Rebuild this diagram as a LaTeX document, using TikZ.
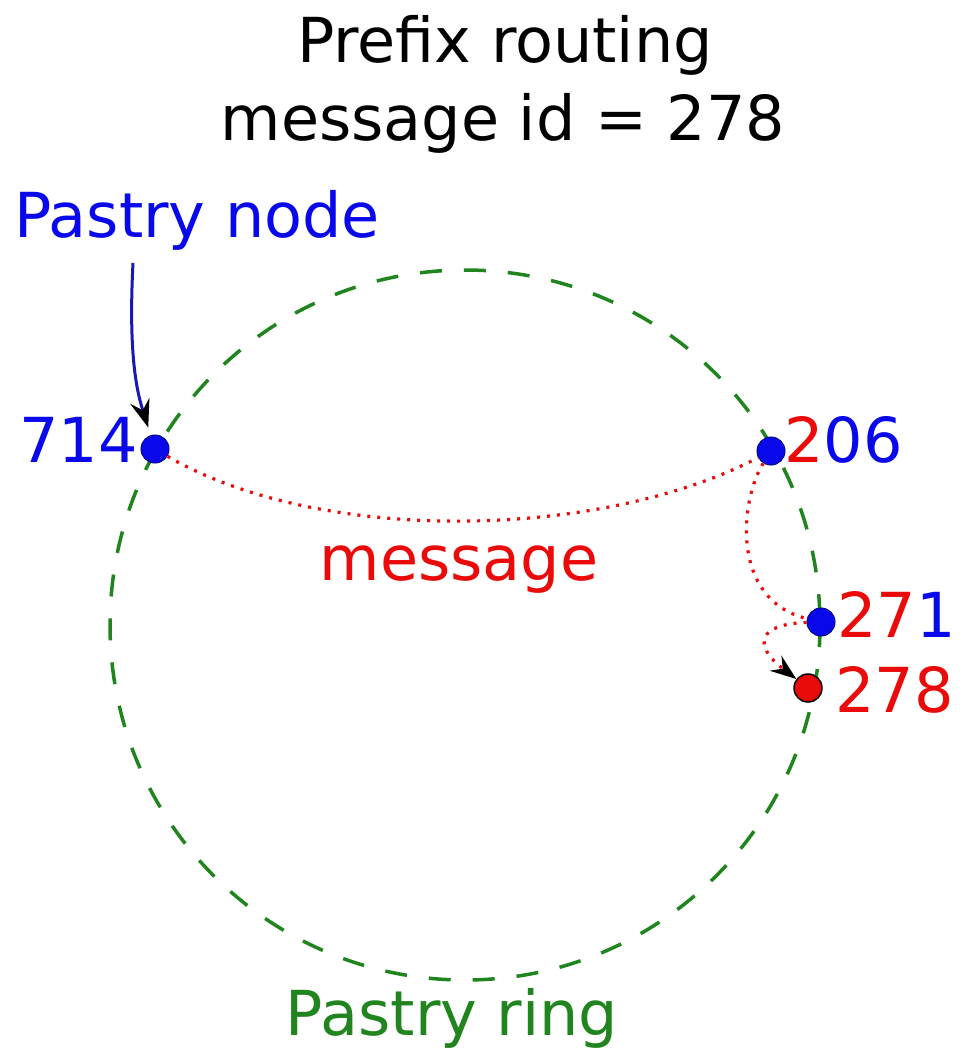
\documentclass[tikz,border=0pt]{standalone}
\usepackage{fontspec}
\setmainfont{DejaVu Sans}
\usetikzlibrary{arrows.meta}
\definecolor{ringgreen}{rgb}{0.13,0.52,0.12}
\definecolor{nodeblue}{rgb}{0.03,0.03,0.92}
\definecolor{msgred}{rgb}{0.92,0.04,0.04}
\definecolor{arrowblue}{rgb}{0.1,0.1,0.7}
\tikzset{
  lbl/.style={inner sep=0pt, font=\fontsize{62}{74}\selectfont},
  peer/.style={circle, fill=nodeblue, draw=nodeblue!60!black, line width=1pt, minimum size=28pt, inner sep=0pt},
  target/.style={circle, fill=msgred, draw=black, line width=1.5pt, minimum size=28pt, inner sep=0pt},
  ring/.style={draw=ringgreen, line width=3.5pt, dash pattern=on 22pt off 22pt},
  hop/.style={draw=msgred, line width=3.2pt, dash pattern=on 3pt off 7pt},
  pointer tip/.style={-{Stealth[black, length=28pt, width=20pt, inset=10pt]}},
  hop tip/.style={-{Stealth[black, length=26pt, width=19pt, inset=9pt]}},
}
\begin{document}
\begin{tikzpicture}[x=1pt, y=-1pt]
  \useasboundingbox[fill=white] (0,0) rectangle (966,1053);

  % title
  \node[lbl, anchor=base] (title1) at (505,62) {Prefix routing};
  \node[lbl, anchor=base] (title2) at (503,140) {message id = 278};

  % the ring
  \draw[ring] (465,625) circle [radius=355];
  \node[lbl, anchor=base, text=ringgreen] (ringlbl) at (452,1035) {Pastry ring};

  % peers on the ring
  \node[peer] (n714) at (155,449) {};
  \node[peer] (n206) at (771,451) {};
  \node[peer] (n271) at (821,622) {};
  \node[target] (n278) at (808,688) {};

  % their identifiers
  \node[lbl, anchor=base east, text=nodeblue] (l714) at (138,462) {714};
  \node[lbl, anchor=base west] (l206) at (784,462) {{\color{msgred}2}{\color{nodeblue}06}};
  \node[lbl, anchor=base west] (l271) at (837,637) {{\color{msgred}27}{\color{nodeblue}1}};
  \node[lbl, anchor=base west, text=msgred] (l278) at (835,712) {278};

  % pointer to a node
  \node[lbl, anchor=base west, text=nodeblue] (pnlbl) at (14,237) {Pastry node};
  \coordinate (pnstart) at (133,263);
  \draw[draw=arrowblue, line width=3pt, shorten >=8pt, pointer tip]
    (pnstart) .. controls (128,360) and (138,395) .. (n714);

  % routing hops
  \draw[hop] (n714) .. controls (320,545) and (600,540) .. (n206);
  \draw[hop] (n206) .. controls (740,500) and (730,600) .. (n271);
  \draw[hop, hop tip]
    (n271) .. controls (758,624) and (752,645) .. (n278);
  \node[lbl, anchor=base, text=msgred] (msglbl) at (459,580) {message};
\end{tikzpicture}
\end{document}
